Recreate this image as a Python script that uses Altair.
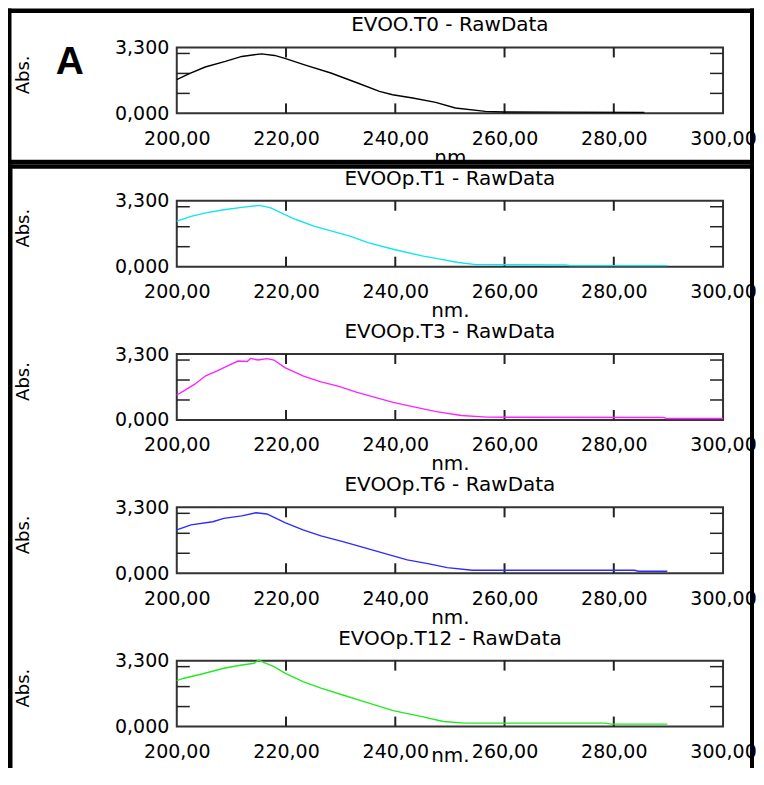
import altair as alt
import pandas as pd

titles = ["EVOO.T0 - RawData", "EVOOp.T1 - RawData", "EVOOp.T3 - RawData",
          "EVOOp.T6 - RawData", "EVOOp.T12 - RawData"]
line_colors = ["#000000", "#12e4f0", "#ff22ff", "#2c2cff", "#22ea22"]
x_axis_titles = ["nm", "nm.", "nm.", "nm.", "nm."]
x_title_offsets = [50, 50, 50, 50, 35]
panel_letter = ["A"]

x_label_values = [200, 220, 240, 260, 280, 300]
y_label_values = [0, 3.3]
inner_x_ticks = [220, 240, 260, 280]
inner_y_ticks = [1, 2, 3]

t0_nm = [200, 202.2, 205.2, 208.9, 211.9, 215.5, 217.9, 219.8, 223.4, 228.2, 233.1,
         237.1, 239.5, 243.2, 247.4, 251.0, 256.5, 260, 270, 285.6]
t0_abs = [1.69, 1.98, 2.32, 2.60, 2.85, 2.98, 2.90, 2.75, 2.43, 2.02, 1.52,
          1.10, 0.93, 0.77, 0.55, 0.27, 0.10, 0.07, 0.06, 0.05]

t1_nm = [200, 202.6, 205.3, 208.6, 211.9, 215.2, 217.2, 219.8, 221.8, 225.1, 228.4,
         231.7, 235.0, 239.6, 244.9, 248.2, 251.5, 254.8, 271.3, 272.0, 289.8]
t1_abs = [2.28, 2.52, 2.69, 2.85, 2.97, 3.07, 2.94, 2.61, 2.36, 2.03, 1.78,
          1.53, 1.20, 0.87, 0.54, 0.38, 0.21, 0.10, 0.08, 0.05, 0.05]

t3_nm = [200, 201.3, 203.3, 205.3, 207.3, 209.2, 211.2, 212.9, 213.5, 214.9, 216.5,
         217.8, 219.8, 223.1, 226.4, 229.7, 233.0, 236.3, 239.6, 243.6, 247.5,
         252.1, 256.8, 289.1, 289.8, 300]
t3_abs = [1.25, 1.46, 1.79, 2.21, 2.45, 2.70, 2.95, 2.93, 3.08, 3.00, 3.07,
          3.00, 2.62, 2.21, 1.91, 1.68, 1.38, 1.13, 0.88, 0.64, 0.42,
          0.22, 0.14, 0.12, 0.07, 0.07]

t6_nm = [200, 202.6, 206.6, 208.6, 211.9, 214.5, 216.5, 219.8, 223.1, 226.4, 230.4,
         234.3, 238.3, 242.2, 246.2, 249.5, 254.1, 283.8, 284.5, 289.8]
t6_abs = [2.17, 2.42, 2.58, 2.75, 2.87, 3.03, 2.97, 2.53, 2.17, 1.87, 1.58,
          1.28, 0.97, 0.67, 0.47, 0.28, 0.15, 0.15, 0.10, 0.10]

t12_nm = [200, 201.3, 204.6, 208.6, 211.9, 214.2, 215.0, 216.0, 217.8, 219.8, 223.1,
          226.4, 230.4, 234.3, 239.6, 244.9, 248.8, 252.8, 278.5, 279.5, 289.8]
t12_abs = [2.30, 2.42, 2.63, 2.92, 3.08, 3.17, 3.33, 3.20, 3.00, 2.67, 2.25,
           1.92, 1.58, 1.25, 0.80, 0.50, 0.25, 0.17, 0.17, 0.12, 0.12]

series = [(t0_nm, t0_abs), (t1_nm, t1_abs), (t3_nm, t3_abs), (t6_nm, t6_abs), (t12_nm, t12_abs)]

W, H = 547, 66
FONT = "DejaVu Sans"
ONE = pd.DataFrame({"k": [0]})


def bar(x1, x2, y1, y2):
    # a solid black strip used to draw the frame boxes around the panels
    return alt.Chart(ONE).mark_rect(color="black").encode(
        x=alt.value(x1), x2=alt.value(x2), y=alt.value(y1), y2=alt.value(y2))


def panel(i):
    nm, ab = series[i]
    df = pd.DataFrame({"nm": nm, "abs": ab})
    line = alt.Chart(df).mark_line(color=line_colors[i], strokeWidth=1.4).encode(
        x=alt.X("nm:Q",
                scale=alt.Scale(domain=[200, 300], nice=False, zero=False),
                axis=alt.Axis(values=x_label_values,
                              labelExpr="replace(format(datum.value, '.2f'), '.', ',')",
                              title=x_axis_titles[i], titleY=x_title_offsets[i],
                              titleBaseline="alphabetic", titleFontSize=20,
                              labelPadding=16, labelFlush=False, labelOverlap=False)),
        y=alt.Y("abs:Q",
                scale=alt.Scale(domain=[0, 3.3], nice=False, zero=True),
                axis=alt.Axis(values=y_label_values,
                              labelExpr="replace(format(datum.value, '.3f'), '.', ',')",
                              title="Abs.", titleX=-153, titleY=27,
                              titleBaseline="middle", titleAlign="center",
                              titleFontSize=18, labelPadding=8)),
    )
    xt = pd.DataFrame({"nm": inner_x_ticks})
    yt = pd.DataFrame({"abs": inner_y_ticks})
    top_t = alt.Chart(xt).mark_rule(color="#222", strokeWidth=2).encode(
        x="nm:Q", y=alt.value(0), y2=alt.value(10))
    bot_t = alt.Chart(xt).mark_rule(color="#222", strokeWidth=2).encode(
        x="nm:Q", y=alt.value(H - 10), y2=alt.value(H))
    left_t = alt.Chart(yt).mark_rule(color="#222", strokeWidth=1.5).encode(
        y="abs:Q", x=alt.value(0), x2=alt.value(13))
    right_t = alt.Chart(yt).mark_rule(color="#222", strokeWidth=1.5).encode(
        y="abs:Q", x=alt.value(W - 13), x2=alt.value(W))
    ttl = alt.Chart(pd.DataFrame({"t": [titles[i]]})).mark_text(
        font=FONT, fontSize=20, align="center", baseline="alphabetic", color="black"
    ).encode(x=alt.value(W / 2), y=alt.value(-16), text="t:N")
    layers = [top_t, bot_t, left_t, right_t, line, ttl]
    if i == 0:
        letter = alt.Chart(pd.DataFrame({"t": panel_letter})).mark_text(
            font="Liberation Sans", fontWeight="bold", fontSize=39,
            align="center", baseline="alphabetic", color="black"
        ).encode(x=alt.value(-107), y=alt.value(27), text="t:N")
        layers += [
            bar(-170, 578, -39, -34.5),
            bar(-170, 578, 112.5, 117),
            bar(-170, -165.5, -39, 117),
            bar(574, 578, -39, 117),
            letter,
        ]
    if i == 1:
        layers += [
            bar(-170, 578, -36.5, -32),
            bar(-169, -164.5, -36.5, 575),
            bar(574, 578, -36.5, 575),
        ]
    return alt.layer(*layers).properties(width=W, height=H)


chart = alt.VConcatChart(
    vconcat=[panel(i) for i in range(5)],
    spacing=87.5,
    bounds="flush",
).properties(
    padding={"left": -2, "top": -1, "right": -2, "bottom": -9},
    background="white"
).configure_view(
    stroke="#333333", strokeWidth=2
).configure_axis(
    labelFont=FONT, labelFontSize=19, labelColor="black",
    titleFont=FONT, titleFontWeight="normal", titleColor="black",
    ticks=False, domain=False, grid=False, tickSize=0
)

chart.save("out.html", embed_options={"renderer": "svg", "actions": False})
